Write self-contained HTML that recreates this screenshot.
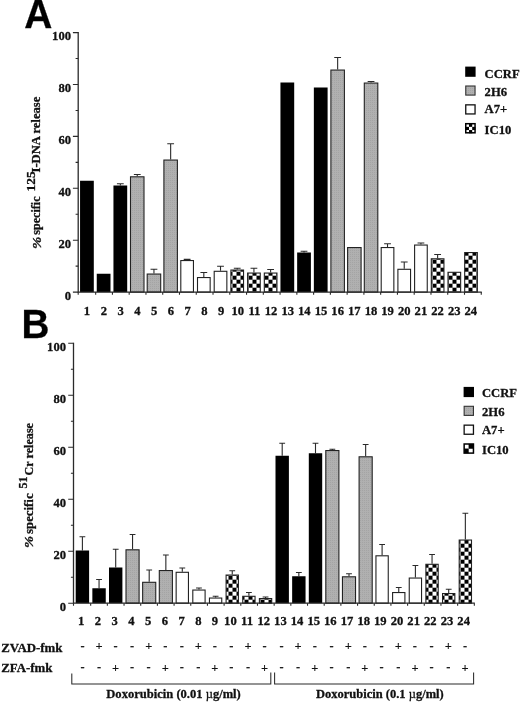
<!DOCTYPE html>
<html lang="en"><head><meta charset="utf-8"><title>Figure</title>
<style>html,body{margin:0;padding:0;background:#fff;}svg{display:block;}text{font-family:"Liberation Serif",serif;font-weight:bold;fill:#111;stroke:#111;stroke-width:0.3px;}.sans{font-family:"Liberation Sans",sans-serif;font-weight:bold;fill:#000;}</style></head><body>
<svg width="520" height="703" viewBox="0 0 520 703">
<defs>
<pattern id="chk" width="8" height="8" patternUnits="userSpaceOnUse" x="0.5" y="3.7"><rect width="8" height="8" fill="#fff"/><rect x="0" y="0" width="4" height="4" fill="#000"/><rect x="4" y="4" width="4" height="4" fill="#000"/></pattern>
<pattern id="gry" width="2" height="2" patternUnits="userSpaceOnUse"><rect width="2" height="2" fill="#b0b0b0"/><rect width="1" height="1" fill="#a4a4a4"/></pattern>
</defs>
<rect width="520" height="703" fill="#fff"/>
<rect x="80.05" y="180.75" width="13.75" height="111.35" fill="#000"/>
<rect x="96.75" y="273.75" width="13.75" height="18.35" fill="#000"/>
<path d="M120.32 185.50V183.75M116.92 183.75H123.72" stroke="#2a2a2a" stroke-width="1.1" fill="none"/>
<rect x="113.45" y="185.50" width="13.75" height="106.60" fill="#000"/>
<path d="M137.25 176.25V174.50M133.85 174.50H140.65" stroke="#2a2a2a" stroke-width="1.1" fill="none"/>
<rect x="130.50" y="176.80" width="13.50" height="115.30" fill="url(#gry)" stroke="#222" stroke-width="1.1"/>
<path d="M153.95 273.50V269.25M150.55 269.25H157.35" stroke="#2a2a2a" stroke-width="1.1" fill="none"/>
<rect x="147.20" y="274.05" width="13.50" height="18.05" fill="url(#gry)" stroke="#222" stroke-width="1.1"/>
<path d="M170.65 159.50V143.75M167.25 143.75H174.05" stroke="#2a2a2a" stroke-width="1.1" fill="none"/>
<rect x="163.90" y="160.05" width="13.50" height="132.05" fill="url(#gry)" stroke="#222" stroke-width="1.1"/>
<path d="M187.12 260.00V259.40M183.72 259.40H190.53" stroke="#2a2a2a" stroke-width="1.1" fill="none"/>
<rect x="180.80" y="260.55" width="12.65" height="31.55" fill="#fff" stroke="#222" stroke-width="1.1"/>
<path d="M203.82 277.00V272.50M200.42 272.50H207.22" stroke="#2a2a2a" stroke-width="1.1" fill="none"/>
<rect x="197.50" y="277.55" width="12.65" height="14.55" fill="#fff" stroke="#222" stroke-width="1.1"/>
<path d="M220.52 270.75V266.25M217.12 266.25H223.92" stroke="#2a2a2a" stroke-width="1.1" fill="none"/>
<rect x="214.20" y="271.30" width="12.65" height="20.80" fill="#fff" stroke="#222" stroke-width="1.1"/>
<path d="M237.22 269.50V268.25M233.82 268.25H240.62" stroke="#2a2a2a" stroke-width="1.1" fill="none"/>
<rect x="230.90" y="270.05" width="12.65" height="22.05" fill="url(#chk)" stroke="#222" stroke-width="1.1"/>
<path d="M253.93 272.50V268.25M250.53 268.25H257.32" stroke="#2a2a2a" stroke-width="1.1" fill="none"/>
<rect x="247.60" y="273.05" width="12.65" height="19.05" fill="url(#chk)" stroke="#222" stroke-width="1.1"/>
<path d="M270.62 272.50V269.50M267.23 269.50H274.02" stroke="#2a2a2a" stroke-width="1.1" fill="none"/>
<rect x="264.30" y="273.05" width="12.65" height="19.05" fill="url(#chk)" stroke="#222" stroke-width="1.1"/>
<rect x="280.45" y="82.50" width="13.75" height="209.60" fill="#000"/>
<path d="M304.02 252.50V251.25M300.62 251.25H307.42" stroke="#2a2a2a" stroke-width="1.1" fill="none"/>
<rect x="297.15" y="252.50" width="13.75" height="39.60" fill="#000"/>
<rect x="313.85" y="87.50" width="13.75" height="204.60" fill="#000"/>
<path d="M337.65 69.50V57.50M334.25 57.50H341.05" stroke="#2a2a2a" stroke-width="1.1" fill="none"/>
<rect x="330.90" y="70.05" width="13.50" height="222.05" fill="url(#gry)" stroke="#222" stroke-width="1.1"/>
<rect x="347.60" y="247.55" width="13.50" height="44.55" fill="url(#gry)" stroke="#222" stroke-width="1.1"/>
<path d="M371.05 82.50V81.50M367.65 81.50H374.45" stroke="#2a2a2a" stroke-width="1.1" fill="none"/>
<rect x="364.30" y="83.05" width="13.50" height="209.05" fill="url(#gry)" stroke="#222" stroke-width="1.1"/>
<path d="M387.52 247.00V243.75M384.12 243.75H390.92" stroke="#2a2a2a" stroke-width="1.1" fill="none"/>
<rect x="381.20" y="247.55" width="12.65" height="44.55" fill="#fff" stroke="#222" stroke-width="1.1"/>
<path d="M404.23 268.75V262.00M400.83 262.00H407.62" stroke="#2a2a2a" stroke-width="1.1" fill="none"/>
<rect x="397.90" y="269.30" width="12.65" height="22.80" fill="#fff" stroke="#222" stroke-width="1.1"/>
<path d="M420.93 244.50V243.00M417.53 243.00H424.32" stroke="#2a2a2a" stroke-width="1.1" fill="none"/>
<rect x="414.60" y="245.05" width="12.65" height="47.05" fill="#fff" stroke="#222" stroke-width="1.1"/>
<path d="M437.62 258.25V254.50M434.23 254.50H441.02" stroke="#2a2a2a" stroke-width="1.1" fill="none"/>
<rect x="431.30" y="258.80" width="12.65" height="33.30" fill="url(#chk)" stroke="#222" stroke-width="1.1"/>
<rect x="448.00" y="272.30" width="12.65" height="19.80" fill="url(#chk)" stroke="#222" stroke-width="1.1"/>
<rect x="464.70" y="252.55" width="12.65" height="39.55" fill="url(#chk)" stroke="#222" stroke-width="1.1"/>
<path d="M78.20 32.10V292.10H481.76" stroke="#2a2a2a" stroke-width="1.3" fill="none"/>
<path d="M78.20 292.10h-5.30M78.20 266.15h-2.60M78.20 240.20h-5.30M78.20 214.25h-2.60M78.20 188.30h-5.30M78.20 162.35h-2.60M78.20 136.40h-5.30M78.20 110.45h-2.60M78.20 84.50h-5.30M78.20 58.55h-2.60M78.20 32.60h-5.30M78.20 292.10v2.6M95.67 292.10v2.6M112.43 292.10v2.6M129.19 292.10v2.6M145.96 292.10v2.6M162.73 292.10v2.6M179.49 292.10v2.6M196.25 292.10v2.6M213.02 292.10v2.6M229.78 292.10v2.6M246.55 292.10v2.6M263.32 292.10v2.6M280.08 292.10v2.6M296.85 292.10v2.6M313.61 292.10v2.6M330.38 292.10v2.6M347.14 292.10v2.6M363.90 292.10v2.6M380.67 292.10v2.6M397.44 292.10v2.6M414.20 292.10v2.6M430.97 292.10v2.6M447.73 292.10v2.6M464.50 292.10v2.6M481.26 292.10v2.6" stroke="#2a2a2a" stroke-width="1.1" fill="none"/>
<text transform="translate(71.00 299.60) scale(0.970 1)" font-size="13.0" text-anchor="end">0</text>
<text transform="translate(71.00 247.70) scale(0.970 1)" font-size="13.0" text-anchor="end">20</text>
<text transform="translate(71.00 195.80) scale(0.970 1)" font-size="13.0" text-anchor="end">40</text>
<text transform="translate(71.00 143.90) scale(0.970 1)" font-size="13.0" text-anchor="end">60</text>
<text transform="translate(71.00 92.00) scale(0.970 1)" font-size="13.0" text-anchor="end">80</text>
<text transform="translate(71.00 40.10) scale(0.970 1)" font-size="13.0" text-anchor="end">100</text>
<text transform="translate(87.00 314.70) scale(0.970 1)" font-size="13.0" text-anchor="middle">1</text>
<text transform="translate(103.78 314.70) scale(0.970 1)" font-size="13.0" text-anchor="middle">2</text>
<text transform="translate(120.56 314.70) scale(0.970 1)" font-size="13.0" text-anchor="middle">3</text>
<text transform="translate(137.34 314.70) scale(0.970 1)" font-size="13.0" text-anchor="middle">4</text>
<text transform="translate(154.12 314.70) scale(0.970 1)" font-size="13.0" text-anchor="middle">5</text>
<text transform="translate(170.90 314.70) scale(0.970 1)" font-size="13.0" text-anchor="middle">6</text>
<text transform="translate(187.68 314.70) scale(0.970 1)" font-size="13.0" text-anchor="middle">7</text>
<text transform="translate(204.46 314.70) scale(0.970 1)" font-size="13.0" text-anchor="middle">8</text>
<text transform="translate(221.24 314.70) scale(0.970 1)" font-size="13.0" text-anchor="middle">9</text>
<text transform="translate(237.75 314.70) scale(0.970 1)" font-size="13.0" text-anchor="middle">10</text>
<text transform="translate(254.40 314.70) scale(0.970 1)" font-size="13.0" text-anchor="middle">11</text>
<text transform="translate(271.05 314.70) scale(0.970 1)" font-size="13.0" text-anchor="middle">12</text>
<text transform="translate(287.70 314.70) scale(0.970 1)" font-size="13.0" text-anchor="middle">13</text>
<text transform="translate(304.35 314.70) scale(0.970 1)" font-size="13.0" text-anchor="middle">14</text>
<text transform="translate(321.00 314.70) scale(0.970 1)" font-size="13.0" text-anchor="middle">15</text>
<text transform="translate(337.65 314.70) scale(0.970 1)" font-size="13.0" text-anchor="middle">16</text>
<text transform="translate(354.30 314.70) scale(0.970 1)" font-size="13.0" text-anchor="middle">17</text>
<text transform="translate(370.95 314.70) scale(0.970 1)" font-size="13.0" text-anchor="middle">18</text>
<text transform="translate(387.60 314.70) scale(0.970 1)" font-size="13.0" text-anchor="middle">19</text>
<text transform="translate(404.25 314.70) scale(0.970 1)" font-size="13.0" text-anchor="middle">20</text>
<text transform="translate(420.90 314.70) scale(0.970 1)" font-size="13.0" text-anchor="middle">21</text>
<text transform="translate(437.55 314.70) scale(0.970 1)" font-size="13.0" text-anchor="middle">22</text>
<text transform="translate(454.20 314.70) scale(0.970 1)" font-size="13.0" text-anchor="middle">23</text>
<text transform="translate(470.85 314.70) scale(0.970 1)" font-size="13.0" text-anchor="middle">24</text>
<path d="M82.40 550.50V536.75M79.50 536.75H85.30" stroke="#2a2a2a" stroke-width="1.1" fill="none"/>
<rect x="75.70" y="550.50" width="13.40" height="52.70" fill="#000"/>
<path d="M99.05 588.25V579.50M96.15 579.50H101.95" stroke="#2a2a2a" stroke-width="1.1" fill="none"/>
<rect x="92.35" y="588.25" width="13.40" height="14.95" fill="#000"/>
<path d="M115.70 567.50V549.25M112.80 549.25H118.60" stroke="#2a2a2a" stroke-width="1.1" fill="none"/>
<rect x="109.00" y="567.50" width="13.40" height="35.70" fill="#000"/>
<path d="M132.55 549.25V534.50M129.65 534.50H135.45" stroke="#2a2a2a" stroke-width="1.1" fill="none"/>
<rect x="126.00" y="549.80" width="13.10" height="53.40" fill="url(#gry)" stroke="#222" stroke-width="1.1"/>
<path d="M149.20 581.75V570.00M146.30 570.00H152.10" stroke="#2a2a2a" stroke-width="1.1" fill="none"/>
<rect x="142.65" y="582.30" width="13.10" height="20.90" fill="url(#gry)" stroke="#222" stroke-width="1.1"/>
<path d="M165.85 570.00V555.00M162.95 555.00H168.75" stroke="#2a2a2a" stroke-width="1.1" fill="none"/>
<rect x="159.30" y="570.55" width="13.10" height="32.65" fill="url(#gry)" stroke="#222" stroke-width="1.1"/>
<path d="M182.30 571.75V568.00M179.40 568.00H185.20" stroke="#2a2a2a" stroke-width="1.1" fill="none"/>
<rect x="176.15" y="572.30" width="12.30" height="30.90" fill="#fff" stroke="#222" stroke-width="1.1"/>
<path d="M198.95 589.50V588.00M196.05 588.00H201.85" stroke="#2a2a2a" stroke-width="1.1" fill="none"/>
<rect x="192.80" y="590.05" width="12.30" height="13.15" fill="#fff" stroke="#222" stroke-width="1.1"/>
<path d="M215.60 597.50V596.25M212.70 596.25H218.50" stroke="#2a2a2a" stroke-width="1.1" fill="none"/>
<rect x="209.45" y="598.05" width="12.30" height="5.15" fill="#fff" stroke="#222" stroke-width="1.1"/>
<path d="M232.25 574.50V570.75M229.35 570.75H235.15" stroke="#2a2a2a" stroke-width="1.1" fill="none"/>
<rect x="226.10" y="575.05" width="12.30" height="28.15" fill="url(#chk)" stroke="#222" stroke-width="1.1"/>
<path d="M248.90 595.75V592.50M246.00 592.50H251.80" stroke="#2a2a2a" stroke-width="1.1" fill="none"/>
<rect x="242.75" y="596.30" width="12.30" height="6.90" fill="url(#chk)" stroke="#222" stroke-width="1.1"/>
<path d="M265.55 598.00V597.00M262.65 597.00H268.45" stroke="#2a2a2a" stroke-width="1.1" fill="none"/>
<rect x="259.40" y="598.55" width="12.30" height="4.65" fill="url(#chk)" stroke="#222" stroke-width="1.1"/>
<path d="M282.20 455.75V443.25M279.30 443.25H285.10" stroke="#2a2a2a" stroke-width="1.1" fill="none"/>
<rect x="275.50" y="455.75" width="13.40" height="147.45" fill="#000"/>
<path d="M298.85 576.25V572.50M295.95 572.50H301.75" stroke="#2a2a2a" stroke-width="1.1" fill="none"/>
<rect x="292.15" y="576.25" width="13.40" height="26.95" fill="#000"/>
<path d="M315.50 453.25V443.25M312.60 443.25H318.40" stroke="#2a2a2a" stroke-width="1.1" fill="none"/>
<rect x="308.80" y="453.25" width="13.40" height="149.95" fill="#000"/>
<path d="M332.35 450.00V449.30M329.45 449.30H335.25" stroke="#2a2a2a" stroke-width="1.1" fill="none"/>
<rect x="325.80" y="450.55" width="13.10" height="152.65" fill="url(#gry)" stroke="#222" stroke-width="1.1"/>
<path d="M349.00 576.25V573.75M346.10 573.75H351.90" stroke="#2a2a2a" stroke-width="1.1" fill="none"/>
<rect x="342.45" y="576.80" width="13.10" height="26.40" fill="url(#gry)" stroke="#222" stroke-width="1.1"/>
<path d="M365.65 456.25V444.50M362.75 444.50H368.55" stroke="#2a2a2a" stroke-width="1.1" fill="none"/>
<rect x="359.10" y="456.80" width="13.10" height="146.40" fill="url(#gry)" stroke="#222" stroke-width="1.1"/>
<path d="M382.10 555.25V544.50M379.20 544.50H385.00" stroke="#2a2a2a" stroke-width="1.1" fill="none"/>
<rect x="375.95" y="555.80" width="12.30" height="47.40" fill="#fff" stroke="#222" stroke-width="1.1"/>
<path d="M398.75 592.00V587.50M395.85 587.50H401.65" stroke="#2a2a2a" stroke-width="1.1" fill="none"/>
<rect x="392.60" y="592.55" width="12.30" height="10.65" fill="#fff" stroke="#222" stroke-width="1.1"/>
<path d="M415.40 577.50V565.50M412.50 565.50H418.30" stroke="#2a2a2a" stroke-width="1.1" fill="none"/>
<rect x="409.25" y="578.05" width="12.30" height="25.15" fill="#fff" stroke="#222" stroke-width="1.1"/>
<path d="M432.05 563.75V554.50M429.15 554.50H434.95" stroke="#2a2a2a" stroke-width="1.1" fill="none"/>
<rect x="425.90" y="564.30" width="12.30" height="38.90" fill="url(#chk)" stroke="#222" stroke-width="1.1"/>
<path d="M448.70 593.00V589.25M445.80 589.25H451.60" stroke="#2a2a2a" stroke-width="1.1" fill="none"/>
<rect x="442.55" y="593.55" width="12.30" height="9.65" fill="url(#chk)" stroke="#222" stroke-width="1.1"/>
<path d="M465.35 539.50V513.25M462.45 513.25H468.25" stroke="#2a2a2a" stroke-width="1.1" fill="none"/>
<rect x="459.20" y="540.05" width="12.30" height="63.15" fill="url(#chk)" stroke="#222" stroke-width="1.1"/>
<path d="M73.50 342.70V603.20H474.82" stroke="#2a2a2a" stroke-width="1.3" fill="none"/>
<path d="M73.50 603.20h-5.30M73.50 577.20h-2.60M73.50 551.20h-5.30M73.50 525.20h-2.60M73.50 499.20h-5.30M73.50 473.20h-2.60M73.50 447.20h-5.30M73.50 421.20h-2.60M73.50 395.20h-5.30M73.50 369.20h-2.60M73.50 343.20h-5.30M73.50 603.20v2.6M90.68 603.20v2.6M107.36 603.20v2.6M124.04 603.20v2.6M140.72 603.20v2.6M157.40 603.20v2.6M174.08 603.20v2.6M190.76 603.20v2.6M207.44 603.20v2.6M224.12 603.20v2.6M240.80 603.20v2.6M257.48 603.20v2.6M274.16 603.20v2.6M290.84 603.20v2.6M307.52 603.20v2.6M324.20 603.20v2.6M340.88 603.20v2.6M357.56 603.20v2.6M374.24 603.20v2.6M390.92 603.20v2.6M407.60 603.20v2.6M424.28 603.20v2.6M440.96 603.20v2.6M457.64 603.20v2.6M474.32 603.20v2.6" stroke="#2a2a2a" stroke-width="1.1" fill="none"/>
<text transform="translate(66.00 610.70) scale(0.970 1)" font-size="13.0" text-anchor="end">0</text>
<text transform="translate(66.00 558.70) scale(0.970 1)" font-size="13.0" text-anchor="end">20</text>
<text transform="translate(66.00 506.70) scale(0.970 1)" font-size="13.0" text-anchor="end">40</text>
<text transform="translate(66.00 454.70) scale(0.970 1)" font-size="13.0" text-anchor="end">60</text>
<text transform="translate(66.00 402.70) scale(0.970 1)" font-size="13.0" text-anchor="end">80</text>
<text transform="translate(66.00 350.70) scale(0.970 1)" font-size="13.0" text-anchor="end">100</text>
<text transform="translate(81.25 625.40) scale(0.970 1)" font-size="13.0" text-anchor="middle">1</text>
<text transform="translate(97.97 625.40) scale(0.970 1)" font-size="13.0" text-anchor="middle">2</text>
<text transform="translate(114.69 625.40) scale(0.970 1)" font-size="13.0" text-anchor="middle">3</text>
<text transform="translate(131.41 625.40) scale(0.970 1)" font-size="13.0" text-anchor="middle">4</text>
<text transform="translate(148.13 625.40) scale(0.970 1)" font-size="13.0" text-anchor="middle">5</text>
<text transform="translate(164.85 625.40) scale(0.970 1)" font-size="13.0" text-anchor="middle">6</text>
<text transform="translate(181.57 625.40) scale(0.970 1)" font-size="13.0" text-anchor="middle">7</text>
<text transform="translate(198.29 625.40) scale(0.970 1)" font-size="13.0" text-anchor="middle">8</text>
<text transform="translate(215.01 625.40) scale(0.970 1)" font-size="13.0" text-anchor="middle">9</text>
<text transform="translate(230.40 625.40) scale(0.970 1)" font-size="13.0" text-anchor="middle">10</text>
<text transform="translate(247.06 625.40) scale(0.970 1)" font-size="13.0" text-anchor="middle">11</text>
<text transform="translate(263.72 625.40) scale(0.970 1)" font-size="13.0" text-anchor="middle">12</text>
<text transform="translate(280.38 625.40) scale(0.970 1)" font-size="13.0" text-anchor="middle">13</text>
<text transform="translate(297.04 625.40) scale(0.970 1)" font-size="13.0" text-anchor="middle">14</text>
<text transform="translate(313.70 625.40) scale(0.970 1)" font-size="13.0" text-anchor="middle">15</text>
<text transform="translate(330.36 625.40) scale(0.970 1)" font-size="13.0" text-anchor="middle">16</text>
<text transform="translate(347.02 625.40) scale(0.970 1)" font-size="13.0" text-anchor="middle">17</text>
<text transform="translate(363.68 625.40) scale(0.970 1)" font-size="13.0" text-anchor="middle">18</text>
<text transform="translate(380.34 625.40) scale(0.970 1)" font-size="13.0" text-anchor="middle">19</text>
<text transform="translate(397.00 625.40) scale(0.970 1)" font-size="13.0" text-anchor="middle">20</text>
<text transform="translate(413.66 625.40) scale(0.970 1)" font-size="13.0" text-anchor="middle">21</text>
<text transform="translate(430.32 625.40) scale(0.970 1)" font-size="13.0" text-anchor="middle">22</text>
<text transform="translate(446.98 625.40) scale(0.970 1)" font-size="13.0" text-anchor="middle">23</text>
<text transform="translate(463.64 625.40) scale(0.970 1)" font-size="13.0" text-anchor="middle">24</text>
<text class="sans" transform="translate(24.3 27.6) scale(0.965 1)" font-size="40.3" stroke="#000" stroke-width="0.3">A</text>
<text class="sans" transform="translate(21.6 338.1) scale(0.96 1)" font-size="40.3" stroke="#000" stroke-width="0.3">B</text>
<text transform="translate(40.60 248.90) rotate(-90)" font-size="13.0" textLength="12.40" lengthAdjust="spacingAndGlyphs" font-style="italic">%</text>
<text transform="translate(39.60 234.70) rotate(-90)" font-size="13.0" textLength="38.20" lengthAdjust="spacingAndGlyphs">specific</text>
<text transform="translate(34.80 191.40) rotate(-90)" font-size="13.0" textLength="20.00" lengthAdjust="spacingAndGlyphs">125</text>
<text transform="translate(39.60 172.50) rotate(-90)" font-size="13.0" textLength="75.80" lengthAdjust="spacingAndGlyphs">I-DNA release</text>
<text transform="translate(33.40 548.00) rotate(-90)" font-size="13.0" textLength="12.10" lengthAdjust="spacingAndGlyphs" font-style="italic">%</text>
<text transform="translate(32.50 533.90) rotate(-90)" font-size="13.0" textLength="40.50" lengthAdjust="spacingAndGlyphs">specific</text>
<text transform="translate(27.20 488.50) rotate(-90)" font-size="12.5" textLength="12.00" lengthAdjust="spacingAndGlyphs">51</text>
<text transform="translate(32.50 475.40) rotate(-90)" font-size="13.0" textLength="52.40" lengthAdjust="spacingAndGlyphs">Cr release</text>
<rect x="465.20" y="66.60" width="10.4" height="10.2" fill="#000"/>
<text transform="translate(484.60 77.50) scale(0.950 1)" font-size="13.3" text-anchor="start">CCRF</text>
<rect x="465.75" y="86.00" width="9.3" height="9.1" fill="url(#gry)" stroke="#333" stroke-width="1.1"/>
<text transform="translate(484.60 95.90) scale(0.950 1)" font-size="13.3" text-anchor="start">2H6</text>
<rect x="465.75" y="104.85" width="9.3" height="9.1" fill="#fff" stroke="#111" stroke-width="1.3"/>
<text transform="translate(484.60 113.00) scale(0.950 1)" font-size="13.3" text-anchor="start">A7+</text>
<rect x="465.75" y="123.70" width="9.3" height="9.1" fill="#fff" stroke="#000" stroke-width="1.5"/>
<rect x="469.00" y="123.65" width="3.20" height="3.20" fill="#000"/><rect x="465.80" y="126.85" width="3.20" height="3.20" fill="#000"/><rect x="472.20" y="126.85" width="3.20" height="3.20" fill="#000"/><rect x="469.00" y="130.05" width="3.20" height="3.20" fill="#000"/>
<text transform="translate(484.60 134.40) scale(0.950 1)" font-size="13.3" text-anchor="start">IC10</text>
<rect x="463.60" y="386.90" width="10.4" height="10.2" fill="#000"/>
<text transform="translate(482.00 397.40) scale(0.950 1)" font-size="13.3" text-anchor="start">CCRF</text>
<rect x="464.15" y="406.30" width="9.3" height="9.1" fill="url(#gry)" stroke="#333" stroke-width="1.1"/>
<text transform="translate(482.00 416.40) scale(0.950 1)" font-size="13.3" text-anchor="start">2H6</text>
<rect x="464.15" y="425.15" width="9.3" height="9.1" fill="#fff" stroke="#111" stroke-width="1.3"/>
<text transform="translate(482.00 433.50) scale(0.950 1)" font-size="13.3" text-anchor="start">A7+</text>
<rect x="464.15" y="444.00" width="9.3" height="9.1" fill="#fff" stroke="#000" stroke-width="1.5"/>
<rect x="468.60" y="443.95" width="4.9" height="4.8" fill="#000"/><rect x="464.10" y="448.55" width="4.6" height="4.6" fill="#000"/>
<text transform="translate(482.00 454.10) scale(0.950 1)" font-size="13.3" text-anchor="start">IC10</text>
<text transform="translate(1.20 652.00) scale(0.990 1)" font-size="13.0" text-anchor="start">ZVAD-fmk</text>
<text transform="translate(1.20 671.70) scale(0.990 1)" font-size="13.0" text-anchor="start">ZFA-fmk</text>
<text x="82.50" y="649.54" font-size="12.5" text-anchor="middle" style="stroke-width:0.1px">-</text>
<text x="82.50" y="671.14" font-size="12.5" text-anchor="middle" style="stroke-width:0.1px">-</text>
<text x="99.05" y="650.45" font-size="12.5" text-anchor="middle" style="stroke-width:0.1px">+</text>
<text x="99.05" y="671.14" font-size="12.5" text-anchor="middle" style="stroke-width:0.1px">-</text>
<text x="115.60" y="649.54" font-size="12.5" text-anchor="middle" style="stroke-width:0.1px">-</text>
<text x="115.60" y="672.05" font-size="12.5" text-anchor="middle" style="stroke-width:0.1px">+</text>
<text x="132.15" y="649.54" font-size="12.5" text-anchor="middle" style="stroke-width:0.1px">-</text>
<text x="132.15" y="671.14" font-size="12.5" text-anchor="middle" style="stroke-width:0.1px">-</text>
<text x="148.70" y="650.45" font-size="12.5" text-anchor="middle" style="stroke-width:0.1px">+</text>
<text x="148.70" y="671.14" font-size="12.5" text-anchor="middle" style="stroke-width:0.1px">-</text>
<text x="165.25" y="649.54" font-size="12.5" text-anchor="middle" style="stroke-width:0.1px">-</text>
<text x="165.25" y="672.05" font-size="12.5" text-anchor="middle" style="stroke-width:0.1px">+</text>
<text x="181.80" y="649.54" font-size="12.5" text-anchor="middle" style="stroke-width:0.1px">-</text>
<text x="181.80" y="671.14" font-size="12.5" text-anchor="middle" style="stroke-width:0.1px">-</text>
<text x="198.35" y="650.45" font-size="12.5" text-anchor="middle" style="stroke-width:0.1px">+</text>
<text x="198.35" y="671.14" font-size="12.5" text-anchor="middle" style="stroke-width:0.1px">-</text>
<text x="214.90" y="649.54" font-size="12.5" text-anchor="middle" style="stroke-width:0.1px">-</text>
<text x="214.90" y="672.05" font-size="12.5" text-anchor="middle" style="stroke-width:0.1px">+</text>
<text x="231.45" y="649.54" font-size="12.5" text-anchor="middle" style="stroke-width:0.1px">-</text>
<text x="231.45" y="671.14" font-size="12.5" text-anchor="middle" style="stroke-width:0.1px">-</text>
<text x="248.00" y="650.45" font-size="12.5" text-anchor="middle" style="stroke-width:0.1px">+</text>
<text x="248.00" y="671.14" font-size="12.5" text-anchor="middle" style="stroke-width:0.1px">-</text>
<text x="264.55" y="649.54" font-size="12.5" text-anchor="middle" style="stroke-width:0.1px">-</text>
<text x="264.55" y="672.05" font-size="12.5" text-anchor="middle" style="stroke-width:0.1px">+</text>
<text x="281.50" y="649.54" font-size="12.5" text-anchor="middle" style="stroke-width:0.1px">-</text>
<text x="281.50" y="671.14" font-size="12.5" text-anchor="middle" style="stroke-width:0.1px">-</text>
<text x="298.18" y="650.45" font-size="12.5" text-anchor="middle" style="stroke-width:0.1px">+</text>
<text x="298.18" y="671.14" font-size="12.5" text-anchor="middle" style="stroke-width:0.1px">-</text>
<text x="314.86" y="649.54" font-size="12.5" text-anchor="middle" style="stroke-width:0.1px">-</text>
<text x="314.86" y="672.05" font-size="12.5" text-anchor="middle" style="stroke-width:0.1px">+</text>
<text x="331.54" y="649.54" font-size="12.5" text-anchor="middle" style="stroke-width:0.1px">-</text>
<text x="331.54" y="671.14" font-size="12.5" text-anchor="middle" style="stroke-width:0.1px">-</text>
<text x="348.22" y="650.45" font-size="12.5" text-anchor="middle" style="stroke-width:0.1px">+</text>
<text x="348.22" y="671.14" font-size="12.5" text-anchor="middle" style="stroke-width:0.1px">-</text>
<text x="364.90" y="649.54" font-size="12.5" text-anchor="middle" style="stroke-width:0.1px">-</text>
<text x="364.90" y="672.05" font-size="12.5" text-anchor="middle" style="stroke-width:0.1px">+</text>
<text x="381.58" y="649.54" font-size="12.5" text-anchor="middle" style="stroke-width:0.1px">-</text>
<text x="381.58" y="671.14" font-size="12.5" text-anchor="middle" style="stroke-width:0.1px">-</text>
<text x="398.26" y="650.45" font-size="12.5" text-anchor="middle" style="stroke-width:0.1px">+</text>
<text x="398.26" y="671.14" font-size="12.5" text-anchor="middle" style="stroke-width:0.1px">-</text>
<text x="414.94" y="649.54" font-size="12.5" text-anchor="middle" style="stroke-width:0.1px">-</text>
<text x="414.94" y="672.05" font-size="12.5" text-anchor="middle" style="stroke-width:0.1px">+</text>
<text x="431.62" y="649.54" font-size="12.5" text-anchor="middle" style="stroke-width:0.1px">-</text>
<text x="431.62" y="671.14" font-size="12.5" text-anchor="middle" style="stroke-width:0.1px">-</text>
<text x="448.30" y="650.45" font-size="12.5" text-anchor="middle" style="stroke-width:0.1px">+</text>
<text x="448.30" y="671.14" font-size="12.5" text-anchor="middle" style="stroke-width:0.1px">-</text>
<text x="464.98" y="649.54" font-size="12.5" text-anchor="middle" style="stroke-width:0.1px">-</text>
<text x="464.98" y="672.05" font-size="12.5" text-anchor="middle" style="stroke-width:0.1px">+</text>
<path d="M71.8 673.6V683.9H270.8V672.6M274.6 672.6V683.9H473.6V672.6" stroke="#2a2a2a" stroke-width="1.05" fill="none"/>
<text transform="translate(106.30 697.60) scale(0.967 1)" font-size="13.0" text-anchor="start">Doxorubicin (0.01 <tspan style="font-weight:normal">µ</tspan>g/ml)</text>
<text transform="translate(316.00 697.60) scale(0.962 1)" font-size="13.0" text-anchor="start">Doxorubicin (0.1 <tspan style="font-weight:normal">µ</tspan>g/ml)</text>
</svg></body></html>
